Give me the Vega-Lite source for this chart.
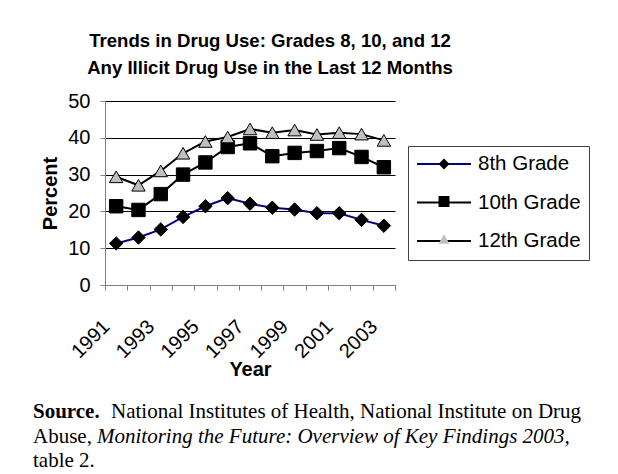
{
  "$schema": "https://vega.github.io/schema/vega-lite/v6.json",
  "autosize": {"type": "none"},
  "padding": {"left": 105, "top": 101, "right": 513, "bottom": 373},
  "background": "white",
  "config": {"font": "Liberation Sans", "view": {"stroke": null}},
  "bounds": "flush",
  "spacing": 133,
  "vconcat": [
    {
      "width": 290,
      "height": 184,
      "title": {
        "text": ["Trends in Drug Use: Grades 8, 10, and 12", "Any Illicit Drug Use in the Last 12 Months"],
        "font": "Liberation Sans",
        "fontSize": 18.6,
        "fontWeight": "bold",
        "color": "black",
        "anchor": "middle",
        "frame": "group",
        "dx": 20,
        "offset": 13,
        "lineHeight": 27
      },
      "data": {
        "values": [
          {"year": 1991, "grade": "8th Grade", "percent": 11.3},
          {"year": 1992, "grade": "8th Grade", "percent": 12.9},
          {"year": 1993, "grade": "8th Grade", "percent": 15.1},
          {"year": 1994, "grade": "8th Grade", "percent": 18.5},
          {"year": 1995, "grade": "8th Grade", "percent": 21.4},
          {"year": 1996, "grade": "8th Grade", "percent": 23.6},
          {"year": 1997, "grade": "8th Grade", "percent": 22.1},
          {"year": 1998, "grade": "8th Grade", "percent": 21.0},
          {"year": 1999, "grade": "8th Grade", "percent": 20.5},
          {"year": 2000, "grade": "8th Grade", "percent": 19.5},
          {"year": 2001, "grade": "8th Grade", "percent": 19.5},
          {"year": 2002, "grade": "8th Grade", "percent": 17.7},
          {"year": 2003, "grade": "8th Grade", "percent": 16.1},
          {"year": 1991, "grade": "10th Grade", "percent": 21.4},
          {"year": 1992, "grade": "10th Grade", "percent": 20.4},
          {"year": 1993, "grade": "10th Grade", "percent": 24.7},
          {"year": 1994, "grade": "10th Grade", "percent": 30.0},
          {"year": 1995, "grade": "10th Grade", "percent": 33.3},
          {"year": 1996, "grade": "10th Grade", "percent": 37.5},
          {"year": 1997, "grade": "10th Grade", "percent": 38.5},
          {"year": 1998, "grade": "10th Grade", "percent": 35.0},
          {"year": 1999, "grade": "10th Grade", "percent": 35.9},
          {"year": 2000, "grade": "10th Grade", "percent": 36.4},
          {"year": 2001, "grade": "10th Grade", "percent": 37.2},
          {"year": 2002, "grade": "10th Grade", "percent": 34.8},
          {"year": 2003, "grade": "10th Grade", "percent": 32.0},
          {"year": 1991, "grade": "12th Grade", "percent": 29.4},
          {"year": 1992, "grade": "12th Grade", "percent": 27.1},
          {"year": 1993, "grade": "12th Grade", "percent": 31.0},
          {"year": 1994, "grade": "12th Grade", "percent": 35.8},
          {"year": 1995, "grade": "12th Grade", "percent": 39.0},
          {"year": 1996, "grade": "12th Grade", "percent": 40.2},
          {"year": 1997, "grade": "12th Grade", "percent": 42.4},
          {"year": 1998, "grade": "12th Grade", "percent": 41.4},
          {"year": 1999, "grade": "12th Grade", "percent": 42.1},
          {"year": 2000, "grade": "12th Grade", "percent": 40.9},
          {"year": 2001, "grade": "12th Grade", "percent": 41.4},
          {"year": 2002, "grade": "12th Grade", "percent": 41.0},
          {"year": 2003, "grade": "12th Grade", "percent": 39.3}
        ]
      },
      "encoding": {
        "x": {
          "field": "year",
          "type": "ordinal",
          "title": "Year",
          "scale": {"type": "band", "paddingInner": 0, "paddingOuter": 0},
          "axis": {
            "tickBand": "extent",
            "labelAngle": -45,
            "labelExpr": "datum.value % 2 == 1 ? datum.label : ''",
            "labelOverlap": false,
            "labelFontSize": 20,
            "labelColor": "black",
            "labelPadding": 26,
            "labelOffset": -17,
            "tickColor": "#808080",
            "domainColor": "#808080",
            "tickSize": 5,
            "titleFontSize": 20,
            "titleFontWeight": "bold",
            "titleColor": "black",
            "titlePadding": -2,
            "grid": false
          }
        },
        "y": {
          "field": "percent",
          "type": "quantitative",
          "title": "Percent",
          "scale": {"domain": [0, 50]},
          "axis": {
            "values": [0, 10, 20, 30, 40, 50],
            "grid": true,
            "gridColor": "black",
            "gridWidth": 1,
            "domainColor": "#808080",
            "tickColor": "#808080",
            "tickSize": 5,
            "labelFontSize": 20,
            "labelColor": "black",
            "labelPadding": 10,
            "titleFontSize": 20,
            "titleFontWeight": "bold",
            "titleColor": "black",
            "titlePadding": 7
          }
        }
      },
      "layer": [
        {
          "mark": {"type": "line", "strokeWidth": 2},
          "encoding": {
            "stroke": {
              "field": "grade",
              "type": "nominal",
              "sort": ["8th Grade", "10th Grade", "12th Grade"],
              "scale": {"range": ["#000080", "#000000", "#000000"]},
              "legend": {
                "orient": "none",
                "legendX": 303,
                "legendY": 45,
                "zindex": 1,
                "title": null,
                "strokeColor": "#404040",
                "fillColor": "white",
                "padding": 8,
                "rowPadding": 17.5,
                "clipHeight": 20,
                "symbolType": "stroke",
                "symbolSize": 2916,
                "symbolStrokeWidth": 2,
                "labelFontSize": 20.5,
                "labelFont": "Liberation Sans",
                "labelColor": "black",
                "labelOffset": 6,
                "labelLimit": 300
              }
            }
          }
        },
        {
          "mark": {"type": "point", "filled": true, "size": 180, "stroke": "black", "strokeWidth": 1, "opacity": 1},
          "encoding": {
            "fill": {
              "field": "grade",
              "type": "nominal",
              "scale": {"domain": ["8th Grade", "10th Grade", "12th Grade"], "range": ["#000000", "#000000", "#c0c0c0"]},
              "legend": {
                "orient": "none",
                "legendX": 325,
                "legendY": 45,
                "zindex": 2,
                "title": null,
                "padding": 8,
                "rowPadding": 17.5,
                "clipHeight": 20,
                "symbolSize": 120,
                "symbolStrokeWidth": 1,
                "symbolStrokeColor": "black",
                "symbolOpacity": 1,
                "labelExpr": "''",
                "labelOffset": 6
              }
            },
            "shape": {
              "field": "grade",
              "type": "nominal",
              "scale": {"domain": ["8th Grade", "10th Grade", "12th Grade"], "range": ["diamond", "square", "triangle-up"]},
              "legend": {
                "orient": "none",
                "legendX": 325,
                "legendY": 45,
                "zindex": 2,
                "title": null,
                "padding": 8,
                "rowPadding": 17.5,
                "clipHeight": 20,
                "symbolSize": 120,
                "symbolStrokeWidth": 1,
                "symbolStrokeColor": "black",
                "symbolOpacity": 1,
                "labelExpr": "''",
                "labelOffset": 6
              }
            }
          }
        }
      ]
    },
    {
      "width": 290,
      "height": 49,
      "data": {
        "values": [
          {"line": 1, "part": "lead", "text": "Source."},
          {"line": 1, "part": "body", "text": "National Institutes of Health, National Institute on Drug"},
          {"line": 2, "part": "body", "text": "Abuse,"},
          {"line": 2, "part": "title", "text": "Monitoring the Future:  Overview of Key Findings 2003,"},
          {"line": 3, "part": "body", "text": "table 2."}
        ]
      },
      "encoding": {
        "y": {"field": "line", "type": "ordinal", "axis": null, "scale": {"type": "point", "padding": 0}},
        "x": {"value": -72},
        "text": {"field": "text"}
      },
      "layer": [
        {
          "transform": [{"filter": "datum.part === 'lead'"}],
          "mark": {"type": "text", "font": "Liberation Serif", "fontSize": 21, "fontWeight": "bold", "align": "left", "baseline": "alphabetic", "color": "black"}
        },
        {
          "transform": [{"filter": "datum.part === 'body' && datum.line === 1"}],
          "mark": {"type": "text", "font": "Liberation Serif", "fontSize": 21, "align": "left", "baseline": "alphabetic", "color": "black", "dx": 78}
        },
        {
          "transform": [{"filter": "datum.part === 'body' && datum.line !== 1"}],
          "mark": {"type": "text", "font": "Liberation Serif", "fontSize": 21, "align": "left", "baseline": "alphabetic", "color": "black"}
        },
        {
          "transform": [{"filter": "datum.part === 'title'"}],
          "mark": {"type": "text", "font": "Liberation Serif", "fontSize": 21, "fontStyle": "italic", "align": "left", "baseline": "alphabetic", "color": "black", "dx": 64}
        }
      ]
    }
  ]
}
